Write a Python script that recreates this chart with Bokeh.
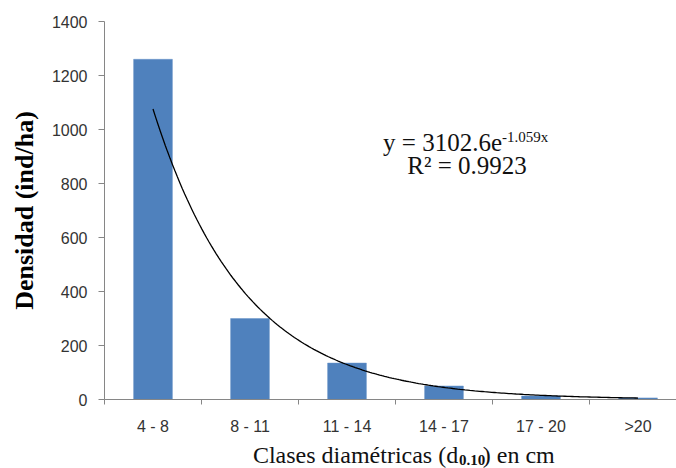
import numpy as np
from bokeh.plotting import figure
from bokeh.layouts import column
from bokeh.models import Range1d, FixedTicker, Label, ColumnDataSource
from bokeh.embed import file_html
from bokeh.resources import INLINE

# ---- data ----
categories = ["4 - 8", "8 - 11", "11 - 14", "14 - 17", "17 - 20", ">20"]
densidad = [1260, 300, 135, 50, 13, 6]
y_ticks = [0, 200, 400, 600, 800, 1000, 1200, 1400]
# exponential trend line as printed in the chart: y = 3102.6 e^(-1.059x)
TREND_A = 3102.6
TREND_B = -1.059
eq_main = "y = 3102.6e"
eq_sup = "-1.059x"
r2_text = "R\u00b2 = 0.9923"
xt_main = "Clases diam\u00e9tricas (d"
xt_sub = "0.10"
xt_rest = ") en cm"

# ---- layout constants ----
W = 676
CAT_PX = 97.0
FRAME_L = 104
FRAME_W = W - FRAME_L
n = len(categories)
centers = [i + 0.5 for i in range(n)]

p = figure(width=W, height=440, output_backend="svg", toolbar_location=None,
           x_range=Range1d(0, FRAME_W / CAT_PX), y_range=Range1d(0, 1400),
           min_border_left=FRAME_L, min_border_right=0, min_border_top=21,
           min_border_bottom=41)
p.outline_line_color = None
p.xgrid.visible = False
p.ygrid.visible = False
p.background_fill_color = "white"

src = ColumnDataSource(dict(x=centers, top=densidad, cat=categories))
p.vbar(x="x", top="top", width=0.4, source=src, fill_color="#4F81BD",
       line_color="#6A95C8", line_width=0.5)

# trend line from the printed equation
xt = np.linspace(1, n, 200)
yt = TREND_A * np.exp(TREND_B * xt)
p.line(xt - 0.5, yt, line_color="black", line_width=1.3)

axis_col = "#868686"
tick_font = "Liberation Sans"
# x axis
p.xaxis.ticker = FixedTicker(ticks=centers, minor_ticks=list(range(n + 1)))
p.xaxis.major_label_overrides = {c: lab for c, lab in zip(centers, categories)}
p.xaxis.major_tick_line_color = None
p.xaxis.major_tick_out = 0
p.xaxis.major_tick_in = 0
p.xaxis.minor_tick_out = 5
p.xaxis.minor_tick_in = 0
p.xaxis.minor_tick_line_color = axis_col
p.xaxis.axis_line_color = axis_col
p.xaxis.major_label_standoff = 13
p.xaxis.major_label_text_font = tick_font
p.xaxis.major_label_text_font_size = "16px"
p.xaxis.major_label_text_color = "#333333"

# y axis
p.yaxis.ticker = FixedTicker(ticks=y_ticks, minor_ticks=[])
p.yaxis.major_tick_out = 6
p.yaxis.major_tick_in = 0
p.yaxis.major_tick_line_color = axis_col
p.yaxis.axis_line_color = axis_col
p.yaxis.major_label_standoff = 11
p.yaxis.major_label_text_font = tick_font
p.yaxis.major_label_text_font_size = "16px"
p.yaxis.major_label_text_color = "#333333"
p.yaxis.axis_label = "Densidad (ind/ha)"
p.yaxis.axis_label_text_font = "Liberation Serif"
p.yaxis.axis_label_text_font_style = "bold"
p.yaxis.axis_label_text_font_size = "26px"
p.yaxis.axis_label_text_color = "black"
p.yaxis.axis_label_standoff = 10

serif = "Liberation Serif"
txt_col = "#111111"
# equation annotation
p.add_layout(Label(x=4.098, y=952, text=eq_main, text_align="right",
                   text_baseline="alphabetic", text_font=serif,
                   text_font_size="25px", text_color=txt_col))
p.add_layout(Label(x=4.098, y=972, text=eq_sup, text_align="left",
                   text_baseline="alphabetic", text_font=serif,
                   text_font_size="15px", text_color=txt_col))
p.add_layout(Label(x=3.737, y=868, text=r2_text, text_align="center",
                   text_baseline="alphabetic", text_font=serif,
                   text_font_size="25px", text_color=txt_col))

# x axis title (own strip so that the subscript can be drawn as text)
t = figure(width=W, height=28, output_backend="svg", toolbar_location=None,
           x_range=Range1d(0, W), y_range=Range1d(0, 28),
           min_border=0, x_axis_type=None, y_axis_type=None)
t.outline_line_color = None
t.xgrid.visible = False
t.ygrid.visible = False
anchor = 418
t.add_layout(Label(x=anchor, y=27, text=xt_main, text_align="right",
                   text_baseline="top", text_font=serif,
                   text_font_size="24px", text_color=txt_col))
t.add_layout(Label(x=anchor + 1, y=14, text=xt_sub, text_align="left",
                   text_baseline="top", text_font=serif,
                   text_font_style="bold", text_font_size="15px",
                   text_color=txt_col))
t.add_layout(Label(x=anchor + 29, y=27, text=xt_rest, text_align="left",
                   text_baseline="top", text_font=serif,
                   text_font_size="24px", text_color=txt_col))

layout = column(p, t, spacing=0)
open("out.html", "w").write(file_html(layout, INLINE))
